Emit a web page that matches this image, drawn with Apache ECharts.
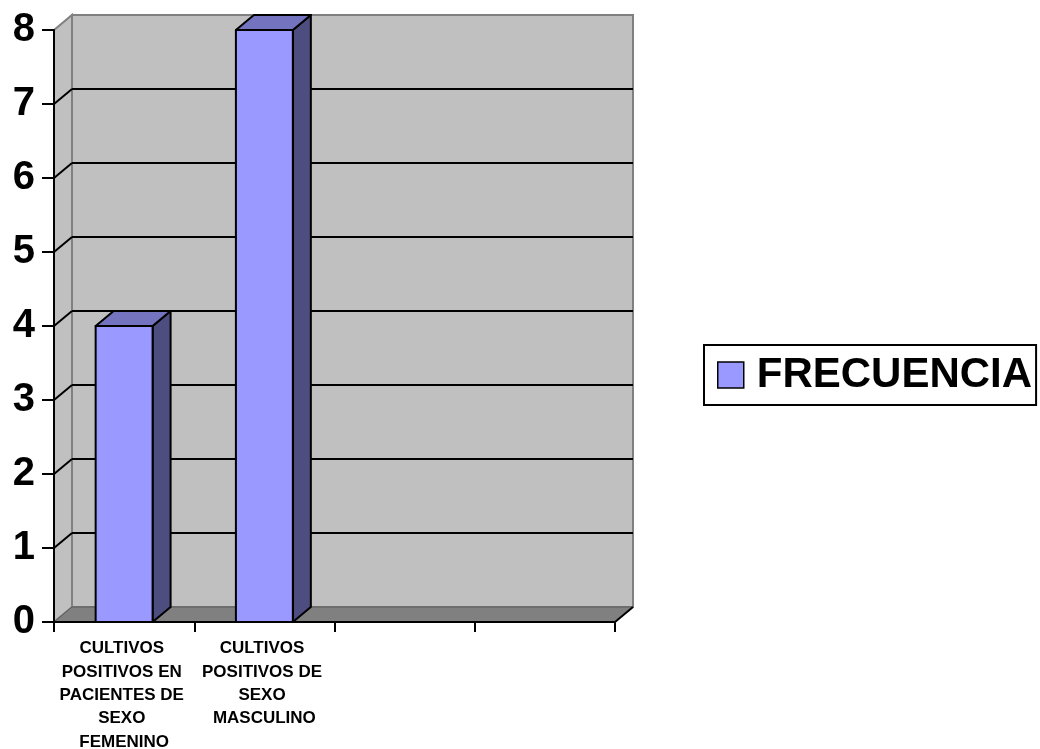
<!DOCTYPE html>
<html>
<head>
<meta charset="utf-8">
<script src="https://cdn.jsdelivr.net/npm/echarts@6/dist/echarts.min.js"></script>
<style>
  html, body { margin: 0; padding: 0; background: #fff; }
  #chart { width: 1040px; height: 749px; }
</style>
</head>
<body>
<div id="chart"></div>
<script>
// Chart data
const categories = [
  'CULTIVOS POSITIVOS EN PACIENTES DE SEXO FEMENINO',
  'CULTIVOS POSITIVOS DE SEXO MASCULINO',
  '',
  ''
];
const frecuencia = [4, 8];
const seriesName = 'FRECUENCIA';
const yTicks = [0, 1, 2, 3, 4, 5, 6, 7, 8];

// Look of the pseudo-3D box
const DX = 18, DY = -15;            // depth offset of the back plane
const BAR_RATIO = 0.406;            // front-face width / category band
const FONT = '"Liberation Sans", Arial, sans-serif';
const yMin = yTicks[0], yMax = yTicks[yTicks.length - 1];

const chart = echarts.init(document.getElementById('chart'));

function plotEdges(api) {
  const band = api.size([1, 0])[0];
  const L = api.coord([0, yMin])[0] - band / 2;
  const R = api.coord([categories.length - 1, yMin])[0] + band / 2;
  const y0 = api.coord([0, yMin])[1];
  const yT = api.coord([0, yMax])[1];
  return { band, L, R, y0, yT };
}

// Walls and floor
function renderWalls(params, api) {
  const e = plotEdges(api);
  return {
    type: 'group',
    children: [
      { type: 'polygon', shape: { points: [[e.L + DX, e.yT + DY], [e.R + DX, e.yT + DY], [e.R + DX, e.y0 + DY], [e.L + DX, e.y0 + DY]] },
        style: { fill: '#C0C0C0', stroke: '#808080', lineWidth: 2 } },
      { type: 'polygon', shape: { points: [[e.L, e.yT], [e.L + DX, e.yT + DY], [e.L + DX, e.y0 + DY], [e.L, e.y0]] },
        style: { fill: '#C0C0C0', stroke: '#808080', lineWidth: 2 } },
      { type: 'polygon', shape: { points: [[e.L, e.y0], [e.R, e.y0], [e.R + DX, e.y0 + DY], [e.L + DX, e.y0 + DY]] },
        style: { fill: '#808080', stroke: '#5a5a5a', lineWidth: 1 } },
      { type: 'line', shape: { x1: e.R, y1: e.y0, x2: e.R + DX, y2: e.y0 + DY },
        style: { stroke: '#000', lineWidth: 2 } }
    ]
  };
}

// Gridlines on back wall and left wall
function renderGrid(params, api) {
  const e = plotEdges(api);
  const y = api.coord([0, api.value(1)])[1];
  return {
    type: 'group',
    children: [
      { type: 'line', shape: { x1: e.L + DX, y1: y + DY, x2: e.R + DX, y2: y + DY }, style: { stroke: '#000', lineWidth: 2 } },
      { type: 'line', shape: { x1: e.L, y1: y, x2: e.L + DX, y2: y + DY }, style: { stroke: '#000', lineWidth: 2 } }
    ]
  };
}

// 3D columns
function renderBar(params, api) {
  const i = api.value(0), v = api.value(1);
  const band = api.size([1, 0])[0];
  const w = band * BAR_RATIO;
  const base = api.coord([i, yMin]);
  const top = api.coord([i, v]);
  const x0 = base[0] - w / 2, x1 = base[0] + w / 2;
  const yb = base[1], yt = top[1];
  const line = { stroke: '#000', lineWidth: 2, lineJoin: 'round' };
  return {
    type: 'group',
    children: [
      { type: 'polygon', shape: { points: [[x1, yt], [x1 + DX, yt + DY], [x1 + DX, yb + DY], [x1, yb]] },
        style: Object.assign({ fill: '#4D4D80' }, line) },
      { type: 'polygon', shape: { points: [[x0, yt], [x1, yt], [x1 + DX, yt + DY], [x0 + DX, yt + DY]] },
        style: Object.assign({ fill: '#7373BF' }, line) },
      { type: 'rect', shape: { x: x0, y: yt, width: w, height: yb - yt },
        style: Object.assign({ fill: '#9999FF' }, line) }
    ]
  };
}

chart.setOption({
  animation: false,
  grid: { left: 54, top: 30, width: 561, height: 592, containLabel: false, outerBoundsMode: 'none' },
  legend: {
    data: [seriesName],
    left: 704, top: 345,
    orient: 'vertical',
    padding: [9, 4, 9, 13],
    borderColor: '#000', borderWidth: 2,
    icon: 'rect', itemWidth: 26, itemHeight: 26,
    itemStyle: { color: '#9999FF', borderColor: '#000', borderWidth: 1.5 },
    textStyle: { fontFamily: FONT, fontSize: 42, fontWeight: 'bold', color: '#000', padding: [0, 0, 0, 8] }
  },
  xAxis: {
    type: 'category',
    data: categories,
    axisLine: { lineStyle: { color: '#000', width: 2 } },
    axisTick: { show: true, length: 10, lineStyle: { color: '#000', width: 2 } },
    axisLabel: {
      interval: 0, margin: 15,
      fontFamily: FONT, fontSize: 17, fontWeight: 'bold', color: '#000',
      lineHeight: 23.3, width: 136, overflow: 'break', align: 'center'
    },
    splitLine: { show: false }
  },
  yAxis: {
    type: 'value',
    min: yMin, max: yMax, interval: 1,
    axisLine: { show: true, lineStyle: { color: '#000', width: 2 } },
    axisTick: { show: true, length: 12, lineStyle: { color: '#000', width: 2 } },
    axisLabel: { margin: 19, fontFamily: FONT, fontSize: 40, fontWeight: 'bold', color: '#000' },
    splitLine: { show: false }
  },
  series: [
    { type: 'custom', name: 'walls', clip: false, z: 0, silent: true,
      renderItem: renderWalls, data: [[0, yMin]] },
    { type: 'custom', name: 'grid', clip: false, z: 1, silent: true,
      renderItem: renderGrid, data: yTicks.slice(1, -1).map(v => [0, v]) },
    { type: 'custom', name: seriesName, clip: false, z: 2,
      itemStyle: { color: '#9999FF' },
      renderItem: renderBar, encode: { x: 0, y: 1 },
      data: frecuencia.map((v, i) => [i, v]) }
  ]
});
</script>
</body>
</html>
